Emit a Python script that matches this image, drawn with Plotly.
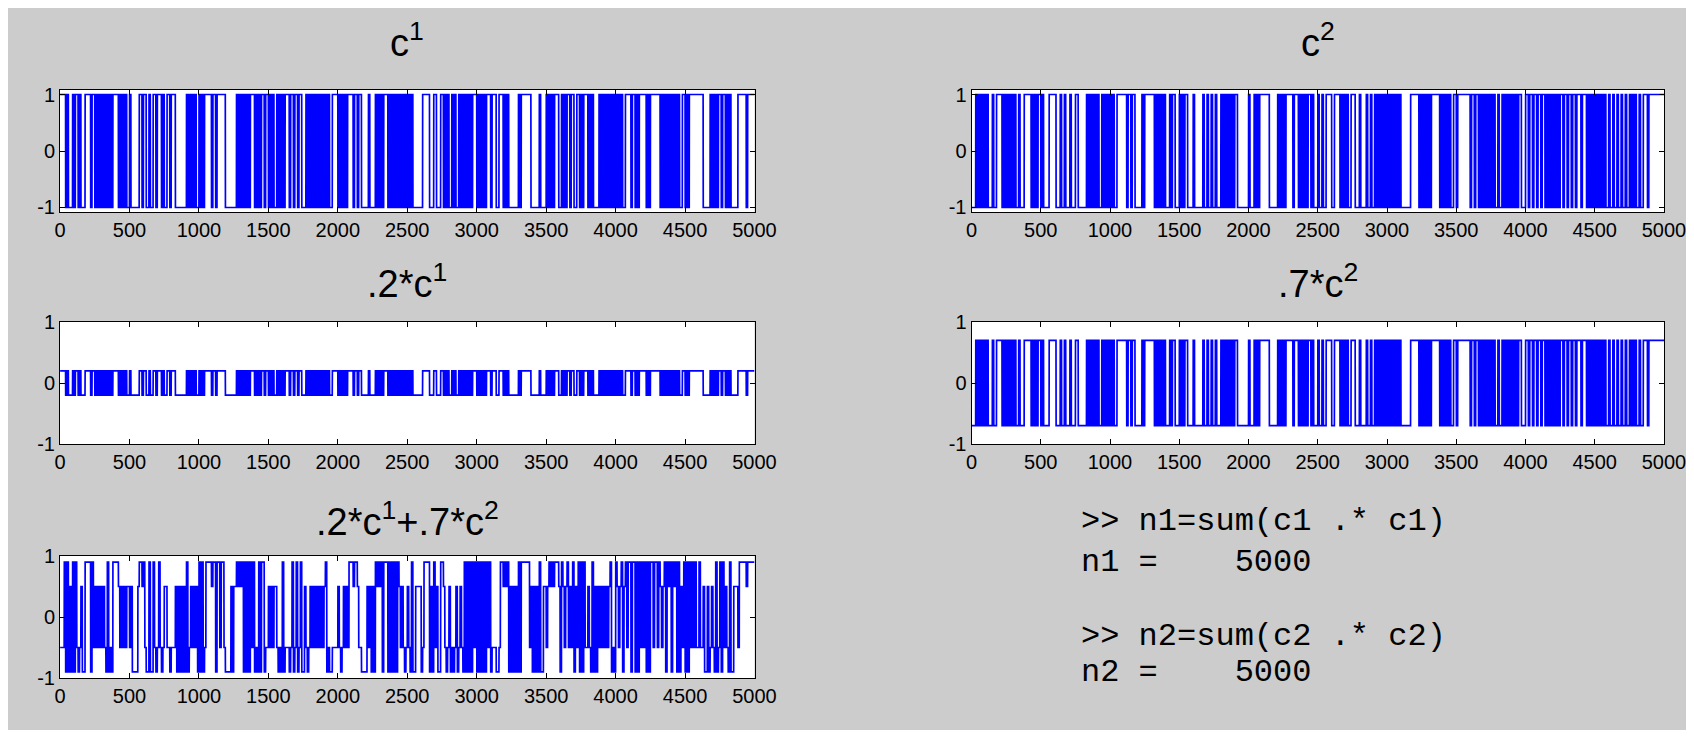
import numpy as np
import plotly.graph_objects as go

# ---------------- data ----------------
x_tick_vals = list(range(0, 5001, 500))
x_tick_text = [str(v) for v in x_tick_vals]
y_tick_vals = [-1, 0, 1]
y_tick_text = ["-1", "0", "1"]

# c1: alternating-sign run lengths (samples), first value +1
c1_first = 1
c1_runs = [
    40, 10, 10, 30, 10, 10, 20, 10, 10, 30, 40, 10, 20, 10, 10, 10, 10, 10, 10, 10,
    10, 10, 10, 10, 10, 10, 40, 10, 10, 10, 10, 10, 10, 20,
    10, 60, 20, 10, 20, 20, 10, 20, 20, 10, 30, 10, 10, 20, 20, 10, 30, 80,
    10, 10, 10, 10, 10, 10, 10, 20,
    10, 10, 10, 10, 50, 10, 20, 10, 60, 80, 10, 10, 10, 10, 10, 10, 10, 10, 10, 10,
    30, 10, 10, 10, 10, 10, 20, 10, 20,
    10, 10, 10, 10, 20, 10, 10, 10, 10, 10, 10, 30, 10, 20, 10, 20, 10, 20, 30,
    10, 10, 10, 10, 10, 10, 10, 10, 10, 10, 10, 10, 10, 10, 10, 10, 10, 20, 40,
    10, 10, 10, 10, 10, 10, 10, 40, 10, 20, 10, 20, 50, 10, 40, 10, 10, 10, 10, 10, 10,
    30, 10, 10, 10, 10, 10, 10, 10, 10, 10, 10, 10, 10, 10, 10,
    10, 10, 10, 10, 70, 50, 30, 20, 30, 20, 10, 10, 10, 10, 20, 10, 10, 10, 20, 10, 10,
    10, 10, 10, 10, 10, 10, 10, 10, 30,
    10, 10, 10, 10, 10, 10, 10, 30, 10, 30, 20, 30, 10, 10, 10, 10, 70, 10, 10, 70, 60, 10, 40,
    10, 10, 10, 10, 10, 10, 30, 20, 10, 10, 10, 10, 20, 10, 20, 20, 20, 10, 10, 10, 30,
    10, 10, 10, 10, 40, 10, 10, 10, 10, 10, 10, 10, 10, 10, 10, 10, 10,
    10, 10, 10, 10, 10, 20, 40, 10, 20, 10, 10, 10, 50, 10, 10, 10, 70,
    10, 10, 10, 10, 10, 10, 10, 10, 10, 10, 10, 10, 10, 10, 20, 20,
    10, 10, 10, 100, 50, 10, 10, 10, 10, 10, 10, 20, 10, 20, 10, 10, 10, 10, 50, 60, 10, 50,
]

# c2: alternating-sign run lengths (samples), first value -1
c2_first = -1
c2_runs = [
    30, 10, 10, 10, 10, 10, 10, 10, 10, 10, 30, 10, 20, 40, 10, 10, 10, 10, 10, 10, 10, 10, 10, 10,
    20, 10, 30, 50, 10, 10, 10, 10, 10, 20,
    10, 10, 40, 50, 30, 10, 20, 10, 30, 10, 30, 20, 60, 10, 10, 10, 10, 10, 10, 10, 10,
    10, 20, 10, 10, 10, 10, 10, 10,
    10, 10, 10, 20, 70, 10, 20, 10, 20, 50, 10, 10, 70, 10, 10, 10, 10, 10, 10, 10, 10,
    30, 10, 10, 20, 30,
    10, 10, 10, 10, 20, 40, 10, 60, 10, 20, 10, 20, 10, 20, 10, 30,
    10, 10, 10, 10, 10, 10, 10, 10, 10, 10, 20, 80,
    10, 30, 10, 10, 10, 10, 70, 60, 10, 10, 10, 10, 10, 10, 50, 10, 30,
    10, 10, 10, 10, 10, 10, 10, 20, 10, 10, 30,
    10, 20, 10, 20, 40, 20, 40, 10, 10, 10, 10, 10, 10, 20, 30, 30, 10, 40, 10, 20, 10, 20,
    10, 10, 10, 10, 10, 10, 10, 10, 10,
    10, 10, 10, 10, 10, 10, 10, 10, 10, 10, 70, 60, 10, 10, 10, 10, 10, 10, 10, 10,
    10, 60, 10, 10, 10, 10, 10, 10, 10, 10, 20, 20,
    10, 90, 10, 20, 10, 20, 10, 10, 10, 10, 10, 10, 10, 10, 10, 10, 10, 10,
    20, 10, 20, 10, 10, 10, 10, 10, 10, 10, 10, 10, 10, 10, 10, 20, 30,
    20, 10, 20, 10, 20, 10, 20, 10, 20, 10, 10, 10, 10, 10, 10, 10, 10, 10, 10, 10,
    20, 10, 20, 10, 20, 10, 20, 10, 30, 10, 30, 10, 10, 10, 10, 10, 10,
    10, 10, 10, 10, 10, 10, 10, 10, 20, 10, 20, 10, 20, 10, 20, 10, 20, 10, 20, 10,
    10, 10, 10, 10, 20, 10, 20, 30, 10, 110,
]

weight1 = 0.2
weight2 = 0.7

titles = ["c<sup>1</sup>", "c<sup>2</sup>", ".2*c<sup>1</sup>", ".7*c<sup>2</sup>",
          ".2*c<sup>1</sup>+.7*c<sup>2</sup>"]

console_lines = [">> n1=sum(c1 .* c1)", "n1 =    5000", ">> n2=sum(c2 .* c2)", "n2 =    5000"]


def expand(first, runs):
    signs = first * (-1.0) ** np.arange(len(runs))
    return np.repeat(signs, runs)


c1 = expand(c1_first, c1_runs)
c2 = expand(c2_first, c2_runs)
n1 = np.arange(1, len(c1) + 1)
n2 = np.arange(1, len(c2) + 1)
m = min(len(c1), len(c2))
mix = weight1 * c1[:m] + weight2 * c2[:m]
nm = np.arange(1, m + 1)

# ---------------- layout geometry ----------------
# the page keeps an 8px margin round the figure, so the figure is 16px smaller
# than the window and every position is given relative to that 8px offset
W, H = 1678, 722
OFF = 8


def px_x(p):
    return (p - OFF) / W


def px_y(p):
    return 1 - (p - OFF) / H


left_dom = [px_x(60), px_x(754.5)]
right_dom = [px_x(971.5), px_x(1664)]
rows = [(90, 212), (322, 444), (556, 678)]
row_dom = [[px_y(b), px_y(t)] for (t, b) in rows]

panels = [
    (n1, c1, left_dom, row_dom[0], [-1.08, 1.08]),
    (n2, c2, right_dom, row_dom[0], [-1.08, 1.08]),
    (n1, weight1 * c1, left_dom, row_dom[1], [-1, 1]),
    (n2, weight2 * c2, right_dom, row_dom[1], [-1, 1]),
    (nm, mix, left_dom, row_dom[2], [-1, 1]),
]

tick_font = dict(family="Liberation Sans, Arial, Helvetica, sans-serif", size=20, color="black")

fig = go.Figure()
layout = dict(
    width=W, height=H, autosize=False,
    margin=dict(l=0, r=0, t=0, b=0, pad=0, autoexpand=False),
    paper_bgcolor="#cccccc", plot_bgcolor="white",
    showlegend=False,
)

for i, (xx, yy, dx, dy, yr) in enumerate(panels):
    k = "" if i == 0 else str(i + 1)
    fig.add_trace(go.Scatter(
        x=xx, y=yy, mode="lines",
        line=dict(color="#0000ff", width=1.7, simplify=False),
        xaxis="x" + k, yaxis="y" + k, hoverinfo="skip",
    ))
    common = dict(
        showline=True, linecolor="black", linewidth=1, mirror="ticks",
        ticks="inside", ticklen=5, tickcolor="black", tickwidth=1,
        showgrid=False, zeroline=False, tickfont=tick_font, automargin=False,
        ticklabeloverflow="allow",
    )
    layout["xaxis" + k] = dict(
        domain=dx, anchor="y" + k, range=[0, 5000],
        tickmode="array", tickvals=x_tick_vals, ticktext=x_tick_text, **common,
    )
    layout["yaxis" + k] = dict(
        domain=dy, anchor="x" + k, range=yr,
        tickmode="array", tickvals=y_tick_vals, ticktext=y_tick_text, **common,
    )

fig.update_layout(**layout)

# titles
title_font = dict(family="Liberation Sans, Arial, Helvetica, sans-serif", size=38, color="black")
title_pos = [
    ((left_dom[0] + left_dom[1]) / 2, px_y(66)),
    ((right_dom[0] + right_dom[1]) / 2, px_y(66)),
    ((left_dom[0] + left_dom[1]) / 2, px_y(307)),
    ((right_dom[0] + right_dom[1]) / 2, px_y(307)),
    ((left_dom[0] + left_dom[1]) / 2, px_y(545)),
]
for t, (tx, ty) in zip(titles, title_pos):
    fig.add_annotation(text=t, x=tx, y=ty, xref="paper", yref="paper",
                       xanchor="center", yanchor="bottom", showarrow=False,
                       font=title_font)

# console text
mono = dict(family="Courier New, Liberation Mono, DejaVu Sans Mono, monospace", size=32, color="black")
line_mid = [521, 562, 636, 672]
for line, yc in zip(console_lines, line_mid):
    fig.add_annotation(text=line.replace(" ", "&nbsp;"), x=px_x(1079), y=px_y(yc),
                       xref="paper", yref="paper", xanchor="left", yanchor="middle",
                       showarrow=False, font=mono)

fig.write_html("out.html", config={"displayModeBar": False})
